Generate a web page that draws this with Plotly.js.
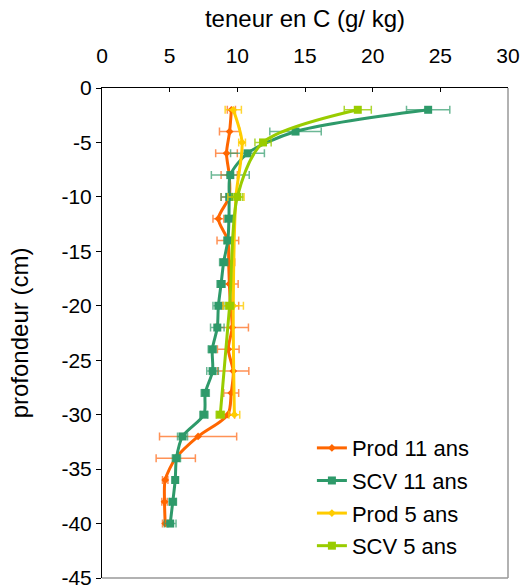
<!DOCTYPE html>
<html>
<head>
<meta charset="utf-8">
<script src="https://cdn.plot.ly/plotly-3.0.1.min.js"></script>
<style>html,body{margin:0;padding:0;background:#fff;}#chart{width:525px;height:585px;}</style>
</head>
<body>
<div id="chart"></div>
<script>
// Depths (cm)
const depth11 = [-2,-4,-6,-8,-10,-12,-14,-16,-18,-20,-22,-24,-26,-28,-30,-32,-34,-36,-38,-40];
const depth5 = [-2,-5,-10,-20,-30];
// Carbon content (g/kg)
const prod11 = [9.56,9.43,9.2,9.4,9.4,8.6,9.3,9.36,9.41,9.5,9.62,9.33,9.7,9.55,9.3,7.1,5.45,4.67,4.62,4.67];
const prod11Err = [0.3,0.75,0.8,0.6,0.6,0.4,0.8,0.45,0.65,0.6,1.2,0.8,1.15,0.55,0.5,2.85,1.45,0.2,0.2,0.2];
const scv11 = [24.1,14.3,10.75,9.48,9.4,9.38,9.3,8.99,8.8,8.6,8.52,8.15,8.17,7.63,7.53,5.95,5.5,5.41,5.23,5.04];
const scv11Err = [1.6,1.9,1.25,1.4,0.6,0.3,0.3,0.3,0.3,0.4,0.5,0.3,0.43,0.3,0.3,0.37,0.3,0.2,0.27,0.43];
const prod5 = [9.7,10.35,9.9,9.7,9.78];
const prod5Err = [0.6,0.25,0.6,0.75,0.4];
const scv5 = [18.9,11.9,10.0,9.43,8.74];
const scv5Err = [1.0,0.6,0.4,0.3,0.3];
const seriesNames = ["Prod 11 ans","SCV 11 ans","Prod 5 ans","SCV 5 ans"];
const xTickVals = [0,5,10,15,20,25,30];
const yTickVals = [0,-5,-10,-15,-20,-25,-30,-35,-40,-45];
const yTickText = ["0","-5","-10","-15","-20","-25","-30","-35","-40","-45"];

function mk(name, x, y, err, color, errColor, symbol, msize, group) {
  return {
    type: 'scatter', mode: 'lines+markers', name: name, x: x, y: y,
    legendgroup: group,
    line: {color: color, width: 3, shape: 'spline', smoothing: 0.8},
    marker: {color: color, symbol: symbol, size: msize},
    error_x: {type: 'data', array: err, visible: true, color: errColor, thickness: 1.5, width: 4}
  };
}
const data = [
  mk(seriesNames[0], prod11, depth11, prod11Err, '#ff6600', 'rgba(255,110,30,0.75)', 'diamond', 6, 'a'),
  mk(seriesNames[1], scv11, depth11, scv11Err, '#2e9a6a', 'rgba(46,154,106,0.7)', 'square', 8, 'b'),
  mk(seriesNames[2], prod5, depth5, prod5Err, '#ffcc00', 'rgba(255,204,0,0.8)', 'diamond', 6, 'c'),
  mk(seriesNames[3], scv5, depth5, scv5Err, '#99cc00', 'rgba(153,204,0,0.8)', 'square', 8, 'd')
];
const font = {family: '"Liberation Sans", Arial, Helvetica, sans-serif', color: '#000'};
const layout = {
  width: 525, height: 585,
  margin: {l: 102, r: 17, t: 88, b: 7},
  paper_bgcolor: '#fff', plot_bgcolor: '#fff',
  font: Object.assign({size: 20}, font),
  showlegend: true,
  legend: {x: 0.517, y: 0.308, xanchor: 'left', yanchor: 'top', font: {size: 22}, tracegroupgap: 1, traceorder: 'grouped', bgcolor: 'rgba(0,0,0,0)'},
  xaxis: {
    side: 'top', range: [0, 30], tickvals: xTickVals, ticks: 'inside', ticklen: 4, tickcolor: '#000',
    showline: true, linecolor: '#000', linewidth: 1, showgrid: false, zeroline: false,
    ticklabelstandoff: 16,
    tickfont: {size: 21}, title: {text: 'teneur en C (g/ kg)', font: {size: 24}, standoff: 9}
  },
  yaxis: {
    range: [-45, 0], tickvals: yTickVals, ticktext: yTickText, ticks: 'outside', ticklen: 5, tickcolor: '#000',
    showline: true, linecolor: '#000', linewidth: 1, showgrid: false, zeroline: false,
    ticklabeloverflow: 'allow',
    tickfont: {size: 21}, title: {text: 'profondeur (cm)', font: {size: 24}, standoff: 26}
  },
  shapes: [
    {type: 'line', xref: 'paper', yref: 'paper', x0: 1, x1: 1, y0: 0, y1: 1, line: {color: '#999', width: 1.5}},
    {type: 'line', xref: 'paper', yref: 'paper', x0: 0, x1: 1, y0: 0, y1: 0, line: {color: '#999', width: 1.5}}
  ]
};
Plotly.newPlot('chart', data, layout, {displayModeBar: false, staticPlot: true});
</script>
</body>
</html>
